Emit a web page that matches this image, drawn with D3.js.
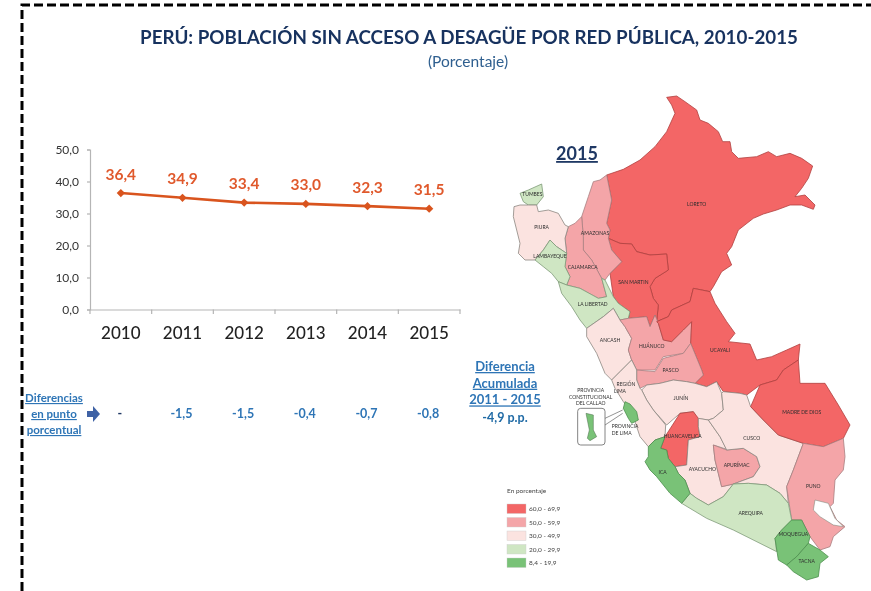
<!DOCTYPE html>
<html lang="en">
<head>
	<meta charset="UTF-8">
	<title>Perú: población sin acceso a desagüe</title>
	<script src="https://d3js.org/d3.v7.min.js"></script>
</head>
<style>
html,body{margin:0;padding:0;background:#fff;}
svg{display:block;filter:blur(0.45px);font-family:Lato,sans-serif;}
.axis path,.axis line{fill:none;stroke:#b5b5b5;stroke-width:1.2;}
.region{stroke-width:0.8;stroke-linejoin:round;}
.tiny{font-size:5px;fill:#2e2e2e;text-anchor:middle;dominant-baseline:middle;}
.blue{fill:#2e75b6;font-weight:700;text-anchor:middle;}
</style>
<body>
<script>
//datos del grafico
var years = ['2010','2011','2012','2013','2014','2015'];
var values = [36.4,34.9,33.4,33.0,32.3,31.5];
var diffs = ['-','-1,5','-1,5','-0,4','-0,7','-0,8'];
var yTicks = [0,10,20,30,40,50];

//datos del mapa (unidades de trazado, no pixeles)
var bandLabels = ['60,0 - 69,9','50,0 - 59,9','30,0 - 49,9','20,0 - 29,9','8,4 - 19,9'];
var regionNames = ['Loreto','San Martin','Amazonas','Cajamarca','Tumbes','Piura','Lambayeque','La Libertad','Ancash','Huanuco','Ucayali','Pasco','Junin','Region Lima','Provincia de Lima','Huancavelica','Ayacucho','Apurimac','Cusco','Madre de Dios','Puno','Arequipa','Moquegua','Tacna','Ica'];
var regionBands = [0,0,1,1,3,2,3,3,2,1,0,1,2,2,4,0,2,1,2,0,1,3,4,4,4];
var regionOutlines = [
	[[500,22],[530,18],[555,35],[590,60],[600,90],[625,100],[655,125],[668,155],[690,155],[695,185],[715,205],[770,200],[805,185],[830,200],[870,190],[905,205],[938,228],[925,265],[905,295],[885,320],[915,315],[945,345],[940,358],[905,345],[870,345],[830,360],[790,372],[760,385],[715,420],[695,470],[680,490],[695,525],[665,545],[640,590],[630,605],[580,595],[570,635],[515,660],[505,680],[470,695],[475,645],[460,625],[450,590],[465,565],[505,540],[500,492],[450,495],[410,485],[395,462],[360,460],[325,445],[330,420],[320,400],[335,330],[320,255],[370,238],[420,210],[465,170],[500,125],[525,70],[515,45]],
	[[325,445],[360,460],[395,462],[410,485],[450,495],[500,492],[505,540],[465,565],[450,590],[460,625],[475,645],[470,695],[465,675],[450,710],[440,680],[385,685],[390,665],[355,640],[340,620],[330,550],[365,515],[335,480]],
	[[320,255],[335,330],[320,400],[330,420],[325,445],[335,480],[365,515],[330,550],[315,570],[305,565],[275,510],[250,480],[250,440],[245,380],[265,320],[280,275],[300,270]],
	[[245,380],[250,440],[250,480],[275,510],[305,565],[320,620],[295,625],[240,595],[200,585],[210,560],[195,530],[200,490],[195,445],[205,410],[225,400]],
	[[60,310],[85,300],[125,282],[130,320],[110,345],[85,345],[70,335]],
	[[42,350],[60,345],[85,345],[110,345],[115,365],[145,360],[175,370],[195,405],[205,410],[195,445],[200,490],[170,470],[150,450],[130,480],[105,510],[75,510],[55,490],[60,460],[50,420],[40,380]],
	[[105,510],[130,480],[150,450],[170,470],[200,490],[195,530],[210,560],[200,585],[175,575],[155,550],[130,530]],
	[[175,575],[200,585],[240,595],[295,625],[320,620],[305,565],[315,570],[340,620],[355,640],[390,665],[385,685],[360,690],[340,655],[310,680],[260,715],[240,690],[215,650],[185,610]],
	[[260,715],[310,680],[340,655],[360,690],[375,710],[395,745],[385,780],[395,810],[360,845],[335,870],[315,850],[290,790],[260,740]],
	[[360,690],[385,685],[440,680],[450,710],[465,675],[475,700],[490,750],[515,755],[550,720],[575,695],[572,760],[550,790],[490,800],[465,840],[410,840],[395,810],[385,780],[395,745],[375,710]],
	[[470,695],[505,680],[515,660],[570,635],[580,595],[630,605],[645,640],[680,695],[705,730],[685,755],[750,762],[770,810],[815,800],[860,780],[900,762],[895,810],[850,840],[830,870],[780,885],[740,915],[720,910],[670,905],[650,875],[620,890],[585,880],[610,855],[605,840],[572,760],[575,695],[550,720],[515,755],[490,750],[475,700]],
	[[410,840],[465,845],[490,805],[550,790],[572,760],[605,840],[610,855],[585,880],[560,875],[520,870],[480,880],[440,885],[420,895],[410,870]],
	[[425,900],[440,885],[480,880],[520,870],[560,875],[585,880],[620,890],[650,875],[665,910],[670,960],[640,985],[625,990],[590,985],[580,965],[540,970],[500,1005],[460,960],[440,930]],
	[[335,870],[360,845],[395,810],[410,840],[410,870],[420,895],[425,900],[440,930],[460,960],[497,1005],[495,1040],[465,1050],[445,1070],[420,1040],[405,995],[390,960],[370,935],[345,895]],
	[[375,935],[390,942],[410,965],[415,990],[395,1000],[385,985],[370,955]],
	[[495,1040],[540,970],[580,965],[595,985],[595,1010],[600,1040],[565,1050],[560,1125],[525,1130],[505,1105],[500,1080],[482,1075]],
	[[595,985],[625,990],[660,1040],[680,1078],[640,1065],[645,1110],[655,1150],[665,1190],[700,1182],[670,1220],[625,1245],[590,1225],[570,1210],[555,1170],[535,1150],[525,1130],[560,1125],[565,1050],[600,1040],[595,1010]],
	[[640,1065],[680,1080],[730,1075],[770,1100],[780,1130],[760,1160],[700,1182],[665,1190],[655,1150],[645,1110]],
	[[665,910],[670,905],[720,910],[740,915],[752,950],[790,990],[835,1035],[910,1060],[880,1140],[860,1190],[865,1240],[840,1210],[800,1185],[745,1180],[700,1182],[760,1160],[780,1130],[770,1100],[730,1075],[680,1080],[660,1040],[625,990],[640,985],[670,960]],
	[[752,950],[780,885],[830,870],[850,840],[895,810],[900,880],[975,880],[1015,945],[1050,1005],[1030,1045],[970,1070],[910,1060],[835,1035],[790,990]],
	[[1030,1045],[1035,1100],[1030,1140],[1005,1170],[1000,1240],[990,1250],[1010,1290],[1035,1310],[1000,1340],[990,1370],[960,1380],[930,1340],[905,1290],[875,1290],[860,1190],[880,1140],[910,1060],[970,1070]],
	[[545,1240],[570,1210],[590,1225],[625,1245],[670,1220],[700,1182],[745,1180],[800,1185],[840,1210],[865,1240],[875,1290],[845,1320],[825,1345],[830,1385],[780,1360],[700,1320],[620,1285],[570,1255]],
	[[875,1290],[905,1290],[930,1340],[925,1360],[890,1400],[860,1425],[835,1410],[825,1345],[845,1320]],
	[[925,1360],[960,1380],[985,1400],[960,1420],[955,1460],[920,1470],[880,1445],[860,1425],[890,1400]],
	[[445,1070],[465,1050],[495,1040],[482,1075],[500,1080],[505,1105],[525,1130],[535,1150],[555,1170],[570,1210],[545,1240],[510,1210],[470,1160],[450,1140],[435,1115],[445,1100]]
];
var lakeOutline = [[945,1230],[985,1240],[1005,1285],[1030,1310],[1000,1305],[960,1280],[940,1260]];
var insetOutline = [[258,970],[280,975],[280,1020],[290,1040],[270,1052],[262,1045],[268,1020],[262,990]];
var labelTexts = ['TUMBES','PIURA','LAMBAYEQUE','AMAZONAS','CAJAMARCA','LORETO','SAN MARTIN','LA LIBERTAD','ANCASH','HUÁNUCO','UCAYALI','PASCO','JUNÍN','REGIÓN','LIMA','HUANCAVELICA','AYACUCHO','APURÍMAC','CUSCO','MADRE DE DIOS','PUNO','AREQUIPA','MOQUEGUA','TACNA','ICA','PROVINCIA','CONSTITUCIONAL','DEL CALLAO','PROVINCIA','DE LIMA'];
var labelPoints = [[97,315],[125,413],[150,500],[285,432],[248,532],[590,345],[400,577],[278,643],[330,752],[455,771],[660,782],[512,842],[543,925],[378,885],[360,905],[548,1040],[607,1138],[710,1128],[755,1047],[905,968],[940,1190],[752,1270],[880,1335],[920,1415],[488,1148],[272,903],[272,922],[272,942],[375,1010],[365,1030]];

var palette = ['#f36666','#f4a5a8','#fbe3e0','#cfe6c3','#79c277'];
var borders = ['#b0403f','#a87f80','#8b8680','#7f9a78','#4c8f4e'];

var svg = d3.select('body').append('svg').attr('width',871).attr('height',591);

//marco punteado
svg.append('path')
	.attr('d','M22,591V5H871')
	.attr('fill','none')
	.attr('stroke','#000')
	.attr('stroke-width',3)
	.attr('stroke-dasharray','9,4');

//titulos
svg.append('text').attr('x',469).attr('y',44).attr('text-anchor','middle')
	.attr('font-size',19.5).attr('font-weight',700).attr('fill','#17325f')
	.attr('textLength',658).attr('lengthAdjust','spacingAndGlyphs')
	.text('PERÚ: POBLACIÓN SIN ACCESO A DESAGÜE POR RED PÚBLICA, 2010-2015');
svg.append('text').attr('x',468).attr('y',67).attr('text-anchor','middle')
	.attr('font-size',15.5).attr('fill','#2f5f8f').text('(Porcentaje)');

//escalas del grafico
var x = d3.scaleBand().domain(years).range([90,460]);
var y = d3.scaleLinear().domain([0,50]).range([309.5,149.5]);

var yAxis = d3.axisLeft(y).tickValues(yTicks).tickSize(3)
	.tickFormat(function(d){return d3.format('.1f')(d).replace('.',',')});
var xAxis = d3.axisBottom(x).tickSize(0).tickPadding(17);

var gy = svg.append('g').attr('class','axis').attr('transform','translate(90,0)').call(yAxis);
gy.selectAll('text').attr('font-family','Lato').attr('font-size',12).attr('fill','#333').attr('x',-11);

var gx = svg.append('g').attr('class','axis').attr('transform','translate(0,309.5)').call(xAxis);
gx.selectAll('text').attr('font-family','Lato').attr('font-size',17).attr('fill','#222').attr('font-weight',500);

//marcas entre categorias
svg.selectAll('.xtick').data([years[0]].concat(years)).enter().append('line')
	.attr('class','xtick')
	.attr('x1',function(d,i){return i==0 ? x(d) : x(d)+x.bandwidth()})
	.attr('x2',function(d,i){return i==0 ? x(d) : x(d)+x.bandwidth()})
	.attr('y1',309.5).attr('y2',314)
	.attr('stroke','#b5b5b5').attr('stroke-width',1.2);

//linea
var cx = function(d,i){return x(years[i])+x.bandwidth()/2};
var line = d3.line().x(cx).y(function(d){return y(d)});
svg.append('path').datum(values).attr('d',line)
	.attr('fill','none').attr('stroke','#d9541e').attr('stroke-width',2.6);
svg.selectAll('.pt').data(values).enter().append('path')
	.attr('class','pt')
	.attr('d',d3.symbol().type(d3.symbolSquare).size(34))
	.attr('transform',function(d,i){return 'translate('+cx(d,i)+','+y(d)+') rotate(45)'})
	.attr('fill','#d9541e');
svg.selectAll('.val').data(values).enter().append('text')
	.attr('class','val')
	.attr('x',cx)
	.attr('y',function(d){return y(d)-13.5})
	.attr('text-anchor','middle')
	.attr('font-size',15.5).attr('font-weight',700).attr('fill','#e0592c')
	.text(function(d){return d3.format('.1f')(d).replace('.',',')});

//fila de diferencias
svg.selectAll('.diff').data(diffs).enter().append('text')
	.attr('class','blue diff')
	.attr('x',function(d,i){return x(years[i])+x.bandwidth()/2-1})
	.attr('y',418)
	.attr('font-size',12.5)
	.style('fill',function(d,i){return i==0 ? '#1f3864' : null})
	.text(function(d){return d});

var diffTitle = ['Diferencias','en punto','porcentual'];
svg.selectAll('.dt').data(diffTitle).enter().append('text')
	.attr('class','blue dt')
	.attr('x',54)
	.attr('y',function(d,i){return 402+i*16})
	.attr('font-size',11.5)
	.attr('text-decoration','underline')
	.text(function(d){return d});
svg.append('path').attr('d','M87,411h6v-5l7,8l-7,8v-5h-6z').attr('fill','#3f62a5');

var accTitle = ['Diferencia','Acumulada','2011 - 2015'];
svg.selectAll('.at').data(accTitle).enter().append('text')
	.attr('class','blue at')
	.attr('x',505)
	.attr('y',function(d,i){return 371+i*16.7})
	.attr('font-size',13)
	.attr('text-decoration','underline')
	.text(function(d){return d});
svg.append('text').attr('class','blue').attr('x',505).attr('y',422).attr('font-size',12.5)
	.style('fill','#1f6aa5').text('-4,9 p.p.');

svg.append('text').attr('x',577).attr('y',160).attr('text-anchor','middle')
	.attr('font-size',18).attr('font-weight',700).attr('fill','#1f3864')
	.attr('text-decoration','underline').text('2015');

//mapa
var mapX = d3.scaleLinear().domain([0,1080]).range([500,860]);
var mapY = d3.scaleLinear().domain([0,1500]).range([90,590]);
var color = d3.scaleOrdinal().domain(bandLabels).range(palette);
var edge = d3.scaleOrdinal().domain(bandLabels).range(borders);
var shape = d3.line().x(function(p){return mapX(p[0])}).y(function(p){return mapY(p[1])});
var outline = function(pts){return shape(pts)+'Z'};
var mapG = svg.append('g').style('filter','blur(0.4px)');

mapG.selectAll('.region').data(regionNames).enter().append('path')
	.attr('class','region')
	.attr('d',function(d,i){return outline(regionOutlines[i])})
	.attr('fill',function(d,i){return color(bandLabels[regionBands[i]])})
	.attr('stroke',function(d,i){return edge(bandLabels[regionBands[i]])});
mapG.append('path').attr('d',outline(lakeOutline)).attr('fill','#fff').attr('stroke','#6f7f70').attr('stroke-width',0.5);

//recuadro del Callao
mapG.append('rect')
	.attr('x',mapX(233)).attr('y',mapY(955))
	.attr('width',mapX(315)-mapX(233)).attr('height',mapY(1065)-mapY(955))
	.attr('rx',3).attr('fill','#fff').attr('stroke','#666').attr('stroke-width',0.8);
mapG.append('path').attr('d',outline(insetOutline)).attr('fill',palette[4]).attr('stroke','#4c6b4c').attr('stroke-width',0.5);
mapG.append('path').attr('d',shape([[315,985],[368,960]])+shape([[315,1005],[368,970]]))
	.attr('fill','none').attr('stroke','#666').attr('stroke-width',0.7);

mapG.selectAll('.tiny').data(labelTexts).enter().append('text')
	.attr('class','tiny')
	.attr('x',function(d,i){return mapX(labelPoints[i][0])})
	.attr('y',function(d,i){return mapY(labelPoints[i][1])})
	.text(function(d){return d});

//leyenda
var legendY = d3.scalePoint().domain(bandLabels).range([504,558]);
mapG.append('text').attr('x',507).attr('y',493).attr('font-size',6.5).attr('fill','#444').text('En porcentaje');
mapG.selectAll('.sw').data(bandLabels).enter().append('rect')
	.attr('class','sw')
	.attr('x',507)
	.attr('y',function(d){return legendY(d)})
	.attr('width',19).attr('height',9.5)
	.attr('fill',function(d){return color(d)})
	.attr('stroke','#ccc').attr('stroke-width',0.4);
mapG.selectAll('.ll').data(bandLabels).enter().append('text')
	.attr('class','ll')
	.attr('x',529)
	.attr('y',function(d){return legendY(d)+7.3})
	.attr('font-size',6.5).attr('fill','#444')
	.text(function(d){return d});
</script>
</body>
</html>
